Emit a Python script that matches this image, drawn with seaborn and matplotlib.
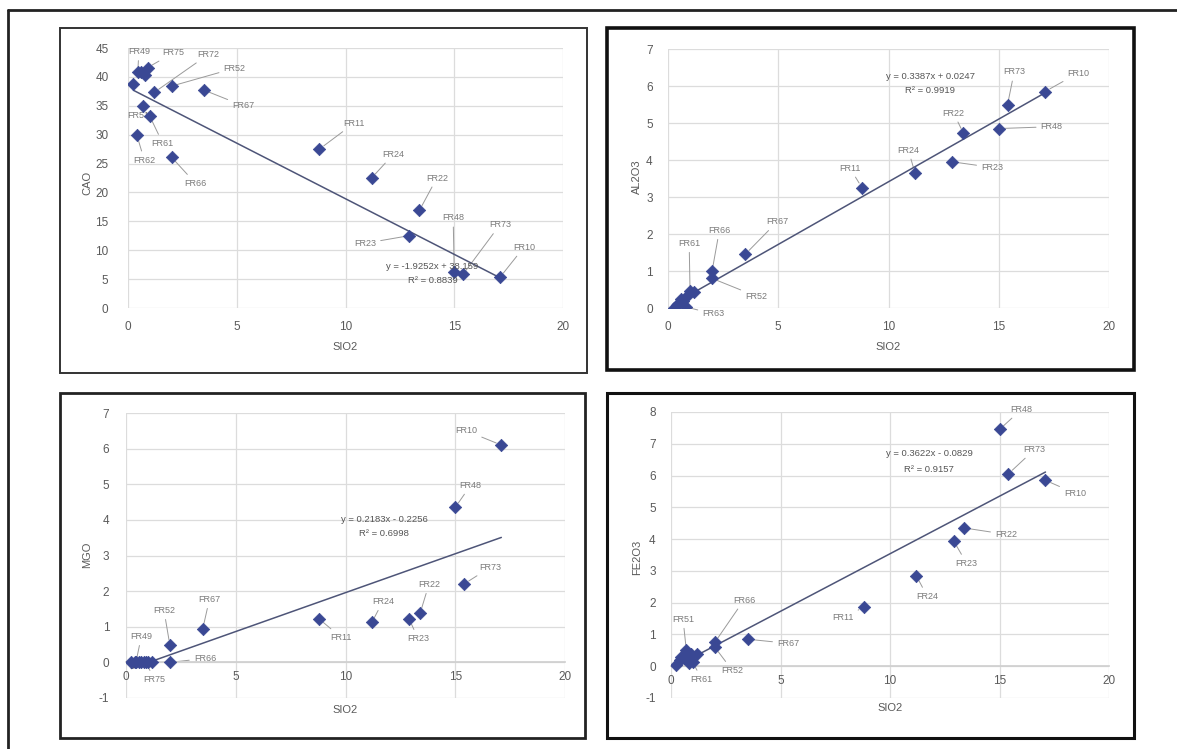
import numpy as np
import pandas as pd
import matplotlib.pyplot as plt
from matplotlib.patches import Rectangle
from matplotlib.lines import Line2D
import seaborn as sns

# sample data
samples = ['FR10', 'FR73', 'FR48', 'FR22', 'FR23', 'FR24', 'FR11', 'FR67', 'FR52', 'FR66',
           'FR72', 'FR61', 'FR75', 'FR51', 'FR63', 'FR49', 'FR62', '', '']
sio2 = [17.1, 15.4, 15.0, 13.4, 12.9, 11.2, 8.8, 3.5, 2.0, 2.0,
        1.2, 1.0, 0.9, 0.7, 0.8, 0.45, 0.4, 0.25, 0.6]
cao = [5.3, 5.8, 6.3, 16.9, 12.5, 22.5, 27.5, 37.7, 38.4, 26.1,
       37.3, 33.2, 41.6, 35.0, 40.3, 40.8, 30.0, 38.8, 40.9]
al2o3 = [5.85, 5.5, 4.85, 4.72, 3.95, 3.65, 3.25, 1.45, 0.8, 1.0,
         0.42, 0.45, 0.35, 0.2, 0.03, 0.12, 0.08, 0.0, 0.25]
mgo = [6.1, 2.2, 4.35, 1.38, 1.22, 1.12, 1.22, 0.95, 0.48, 0.0,
       0.0, 0.0, 0.0, 0.0, 0.0, 0.0, 0.0, 0.0, 0.0]
fe2o3 = [5.85, 6.05, 7.45, 4.35, 3.95, 2.85, 1.85, 0.85, 0.6, 0.75,
         0.4, 0.12, 0.38, 0.5, 0.1, 0.3, 0.2, 0.05, 0.25]

# trendline coefficients and labels as printed on the chart
slopes = [-1.9252, 0.3387, 0.2183, 0.3622]
intercepts = [38.159, 0.0247, -0.2256, -0.0829]
eq_texts = ['y = -1.9252x + 38.159', 'y = 0.3387x + 0.0247',
            'y = 0.2183x - 0.2256', 'y = 0.3622x - 0.0829']
r2_texts = ['R² = 0.8839', 'R² = 0.9919', 'R² = 0.6998', 'R² = 0.9157']
ylabels = ['CAO', 'AL2O3', 'MGO', 'FE2O3']
yranges = [(0, 45, 5), (0, 7, 1), (-1, 7, 1), (-1, 8, 1)]

df = pd.DataFrame({'Sample': samples, 'SIO2': sio2, 'CAO': cao,
                   'AL2O3': al2o3, 'MGO': mgo, 'FE2O3': fe2o3})

# where the point labels sit (data coords)
label_pos = [
    {'FR49': (0.5, 44.4), 'FR75': (2.1, 44.2), 'FR72': (3.7, 43.9), 'FR52': (4.9, 41.5),
     'FR67': (5.3, 35.0), 'FR51': (0.45, 33.3), 'FR61': (1.6, 28.5), 'FR62': (0.75, 25.6),
     'FR66': (3.1, 21.6), 'FR11': (10.4, 32.0), 'FR24': (12.2, 26.6), 'FR22': (14.2, 22.5),
     'FR48': (14.95, 15.6), 'FR73': (17.1, 14.4), 'FR23': (10.9, 11.2), 'FR10': (18.2, 10.5)},
    {'FR73': (15.7, 6.38), 'FR10': (18.6, 6.35), 'FR22': (12.95, 5.27), 'FR48': (17.4, 4.9),
     'FR24': (10.9, 4.27), 'FR23': (14.7, 3.8), 'FR11': (8.25, 3.78), 'FR67': (4.95, 2.33),
     'FR66': (2.33, 2.1), 'FR61': (0.96, 1.75), 'FR52': (4.0, 0.32), 'FR63': (2.06, -0.16)},
    {'FR10': (15.5, 6.5), 'FR48': (15.7, 4.97), 'FR73': (16.6, 2.67), 'FR22': (13.8, 2.19),
     'FR24': (11.7, 1.71), 'FR11': (9.8, 0.7), 'FR23': (13.3, 0.67), 'FR67': (3.8, 1.77),
     'FR52': (1.73, 1.46), 'FR49': (0.7, 0.73), 'FR66': (3.6, 0.11), 'FR75': (1.3, -0.48)},
    {'FR48': (16.0, 8.08), 'FR73': (16.6, 6.82), 'FR10': (18.45, 5.44), 'FR22': (15.3, 4.15),
     'FR23': (13.5, 3.24), 'FR24': (11.7, 2.2), 'FR11': (7.85, 1.54), 'FR66': (3.33, 2.08),
     'FR51': (0.55, 1.48), 'FR67': (5.35, 0.72), 'FR52': (2.8, -0.13), 'FR61': (1.4, -0.41)},
]
eq_pos = [(14.0, 7.1, 4.8), (11.9, 6.27, 5.89), (11.75, 4.0, 3.62), (11.8, 6.7, 6.2)]

W, H = 1177, 749
# axes rectangles in pixels: x0, x1, y_top, y_bottom
axes_px = [(128, 563, 48, 308), (668, 1109, 49, 308), (126, 565, 413, 698), (671, 1109, 412, 698)]
boxes_px = [(60, 28, 587, 373, 1.4, '#333333'), (607, 28, 1134, 370, 2.6, '#111111'),
            (60, 393, 585, 738, 2.0, '#222222'), (607, 393, 1134, 738, 2.2, '#111111')]
ylab_px = [(87, 183), (637, 177), (87, 555), (637, 557)]
xlab_px = [(345, 347), (888, 347), (345, 710), (890, 708)]
ypads = [14, 11, 12, 11]

sns.set_theme(style='white')
plt.rcParams['font.family'] = ['Liberation Sans', 'DejaVu Sans']
plt.rcParams['axes.unicode_minus'] = False

fig = plt.figure(figsize=(W / 100, H / 100), dpi=100)
fig.patch.set_facecolor('white')

# outer frame of the scanned page
fig.add_artist(Line2D([8 / W, 1], [1 - 10 / H, 1 - 10 / H], color='#222222', lw=2))
fig.add_artist(Line2D([8 / W, 8 / W], [1 - 10 / H, 0], color='#222222', lw=2))

for x0, y0, x1, y1, lw, col in boxes_px:
    fig.add_artist(Rectangle((x0 / W, 1 - y1 / H), (x1 - x0) / W, (y1 - y0) / H,
                             fill=False, lw=lw, ec=col, transform=fig.transFigure))

marker_col = '#3a4894'
for i, col in enumerate(ylabels):
    x0, x1, yt, yb = axes_px[i]
    ax = fig.add_axes([x0 / W, 1 - yb / H, (x1 - x0) / W, (yb - yt) / H])
    ymin, ymax, step = yranges[i]
    ax.set_xlim(0, 20)
    ax.set_ylim(ymin, ymax)
    ax.set_xticks(np.arange(0, 21, 5))
    ax.set_yticks(np.arange(ymin, ymax + 0.01, step))
    ax.grid(True, color='#dcdcdc', lw=0.9)
    ax.set_axisbelow(True)
    for s in ax.spines.values():
        s.set_visible(False)
    if ymin < 0:
        ax.spines['bottom'].set_position(('data', 0))
        ax.spines['bottom'].set_visible(True)
        ax.spines['bottom'].set_color('#d0d0d0')
        ax.tick_params(axis='x', pad=6)
    else:
        ax.tick_params(axis='x', pad=9)
    ax.tick_params(axis='y', pad=ypads[i])
    ax.tick_params(length=0, labelsize=8.5, labelcolor='#5a5a5a')

    # trendline over the data range
    xs = np.array([df['SIO2'].min(), df['SIO2'].max()])
    ax.plot(xs, slopes[i] * xs + intercepts[i], color='#4e5578', lw=1.1, zorder=2)

    sns.scatterplot(data=df, x='SIO2', y=col, ax=ax, marker='D', s=40,
                    color=marker_col, edgecolor=marker_col, linewidth=0.5, zorder=3, legend=False)
    ax.set_xlabel('')
    ax.set_ylabel('')

    for name, (tx, ty) in label_pos[i].items():
        k = samples.index(name)
        ax.annotate(name, xy=(sio2[k], df[col][k]), xytext=(tx, ty), textcoords='data',
                    ha='center', va='center', fontsize=6.5, color='#7a7a7a', zorder=1,
                    arrowprops=dict(arrowstyle='-', color='#9a9a9a', lw=0.7,
                                    shrinkA=1, shrinkB=4))

    ex, ey, ry = eq_pos[i]
    ax.text(ex, ey, eq_texts[i], ha='center', va='center', fontsize=6.8, color='#555555')
    ax.text(ex, ry, r2_texts[i], ha='center', va='center', fontsize=6.8, color='#555555')

    fig.text(ylab_px[i][0] / W, 1 - ylab_px[i][1] / H, col, rotation=90,
             ha='center', va='center', fontsize=8, color='#5a5a5a')
    fig.text(xlab_px[i][0] / W, 1 - xlab_px[i][1] / H, 'SIO2',
             ha='center', va='center', fontsize=8, color='#5a5a5a')

fig.savefig('out.png', dpi=100, facecolor='white')
